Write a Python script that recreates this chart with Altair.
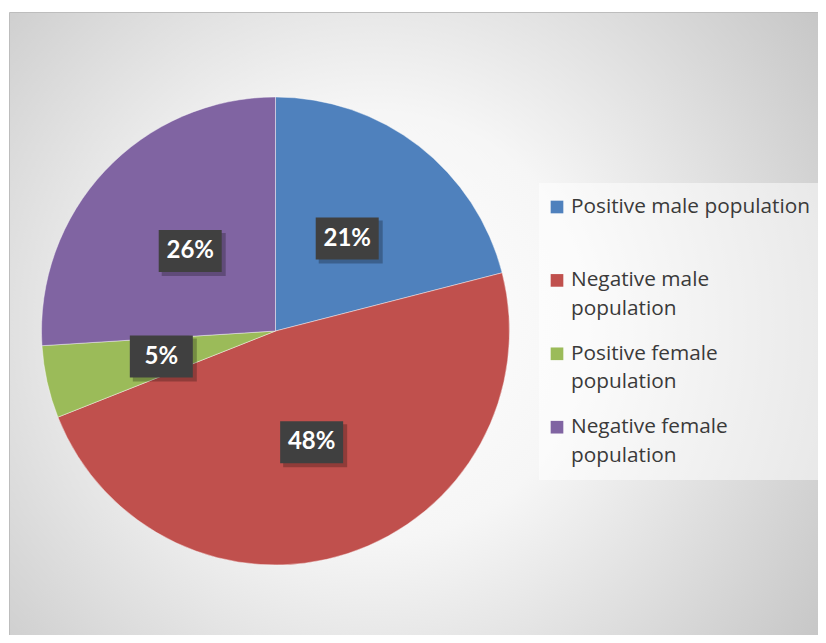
import altair as alt
import pandas as pd

categories = ["Positive male population", "Negative male population",
              "Positive female population", "Negative female population"]
values = [21, 48, 5, 26]
colors = ["#4F81BD", "#C0504D", "#9BBB59", "#8064A2"]
legend_lines = [["Positive male population"],
                ["Negative male", "population"],
                ["Positive female", "population"],
                ["Negative female", "population"]]

W, H = 810, 627
CX, CY, R = 267.5, 323, 234
LR = 117

pie_df = pd.DataFrame({"cat": categories, "value": values, "idx": list(range(len(values)))})
rows = []
for i, lines in enumerate(legend_lines):
    for j, t in enumerate(lines):
        rows.append({"cat": categories[i], "ci": i, "li": j, "text": t})
leg_df = pd.DataFrame(rows)
leg_sq = pd.DataFrame({"cat": categories, "ci": list(range(len(categories)))})
one = pd.DataFrame({"a": [0]})

color_scale = alt.Scale(domain=categories, range=colors)

bg = alt.Chart(one).mark_rect(
    fill={"gradient": "radial", "x1": 0.45, "y1": 0.5, "r1": 0,
          "x2": 0.45, "y2": 0.5, "r2": 0.75,
          "stops": [{"offset": 0, "color": "#ffffff"},
                    {"offset": 0.35, "color": "#f6f6f6"},
                    {"offset": 1, "color": "#bdbdbd"}]},
    stroke="#bdbdbd", strokeWidth=1
).encode(x=alt.value(1.5), x2=alt.value(W + 5), y=alt.value(4.5), y2=alt.value(H + 5))

pie = alt.Chart(pie_df).mark_arc(radius=R, stroke="#ffffff", strokeWidth=0.6,
                                 strokeOpacity=0.7).encode(
    theta=alt.Theta("value:Q", stack=True),
    color=alt.Color("cat:N", scale=color_scale, legend=None),
    order=alt.Order("idx:Q"),
    x=alt.value(CX), y=alt.value(CY),
)

lab = alt.Chart(pie_df).transform_joinaggregate(
    total="sum(value)"
).transform_window(
    cum="sum(value)", sort=[alt.SortField("idx")]
).transform_calculate(
    ang="(datum.cum - datum.value/2) / datum.total * 2 * PI",
    px=f"{CX} + {LR} * sin(datum.ang)",
    py=f"{CY} - {LR} * cos(datum.ang)",
    bx1="datum.px - 31.5", bx2="datum.px + 31.5",
    by1="datum.py - 21", by2="datum.py + 21",
    sx1="datum.px - 28.5", sx2="datum.px + 35.5",
    sy1="datum.py - 18", sy2="datum.py + 25",
    lbl="datum.value + '%'",
)

shadow = lab.mark_rect(color="#000000", opacity=0.25).encode(
    x=alt.X("sx1:Q", scale=None), x2="sx2:Q",
    y=alt.Y("sy1:Q", scale=None), y2="sy2:Q")
box = lab.mark_rect(color="#404040").encode(
    x=alt.X("bx1:Q", scale=None), x2="bx2:Q",
    y=alt.Y("by1:Q", scale=None), y2="by2:Q")
txt = lab.mark_text(font="Lato", fontWeight="bold", fontSize=24, color="#ffffff",
                    baseline="middle", align="center").encode(
    x=alt.X("px:Q", scale=None), y=alt.Y("py:Q", scale=None), text="lbl:N")

leg_bg = alt.Chart(one).mark_rect(color="#ffffff", opacity=0.5).encode(
    x=alt.value(531), x2=alt.value(W + 5), y=alt.value(175), y2=alt.value(472))

leg_sq_m = alt.Chart(leg_sq).transform_calculate(
    ly="199 + datum.ci * 73.4"
).mark_square(size=160, opacity=1).encode(
    x=alt.value(549), y=alt.Y("ly:Q", scale=None),
    color=alt.Color("cat:N", scale=color_scale, legend=None))

leg_txt = alt.Chart(leg_df).transform_calculate(
    ly="199 + datum.ci * 73.4 + datum.li * 28.5"
).mark_text(font="Open Sans", fontSize=20.8, color="#3a3a3a", align="left",
            baseline="middle").encode(
    x=alt.value(563), y=alt.Y("ly:Q", scale=None), text="text:N")

chart = alt.layer(bg, pie, shadow, box, txt, leg_bg, leg_sq_m, leg_txt).properties(
    width=W, height=H, padding=0, autosize="none", background="#ffffff"
).configure_view(stroke=None)

chart.save("out.html", embed_options={"renderer": "svg", "actions": False})
